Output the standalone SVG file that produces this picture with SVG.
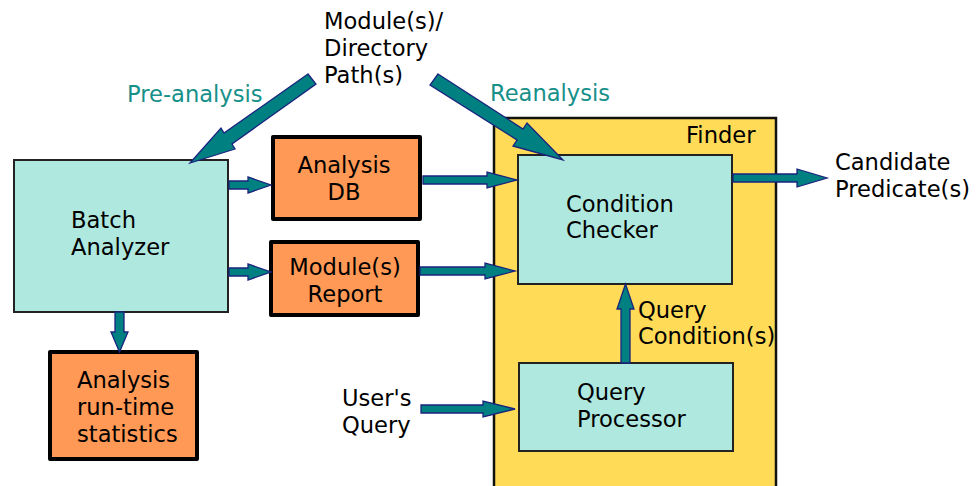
<svg xmlns="http://www.w3.org/2000/svg" width="977" height="486" viewBox="0 0 977 486">
<style>
text{font-family:"DejaVu Sans","Liberation Sans",sans-serif;font-size:22.6px;fill:#000}
.lbl{fill:#17908a}
.mid{text-anchor:middle}
.proc{fill:#afe8de;stroke:#222;stroke-width:2}
.data{fill:#ff9955;stroke:#000;stroke-width:4;stroke-linejoin:round}
.finder{fill:#ffdb58;stroke:#111;stroke-width:2.5}
.arr{fill:#008080;stroke:#1a237e;stroke-width:1.3;stroke-linejoin:miter}
</style>
<rect width="977" height="486" fill="#fff"/>
<g id="finder">
<rect class="finder" x="494" y="118" width="282" height="370"/>
<text x="686" y="143">Finder</text>
</g>
<g id="batch-analyzer">
<rect class="proc" x="14" y="160" width="214" height="152"/>
<text x="71" y="228">Batch</text>
<text x="71" y="255">Analyzer</text>
</g>
<g id="analysis-db">
<rect class="data" x="273" y="137" width="147" height="82"/>
<text class="mid" x="344" y="173">Analysis</text>
<text class="mid" x="344" y="200">DB</text>
</g>
<g id="module-report">
<rect class="data" x="271" y="242" width="147" height="73"/>
<text class="mid" x="345" y="275">Module(s)</text>
<text class="mid" x="345" y="302">Report</text>
</g>
<g id="runtime-stats">
<rect class="data" x="50" y="352" width="147" height="107"/>
<text x="77" y="388">Analysis</text>
<text x="77" y="415">run-time</text>
<text x="77" y="442">statistics</text>
</g>
<g id="condition-checker">
<rect class="proc" x="518" y="155" width="214" height="129"/>
<text x="566" y="212">Condition</text>
<text x="566" y="238">Checker</text>
</g>
<g id="query-processor">
<rect class="proc" x="519" y="363" width="214" height="88"/>
<text x="577" y="400">Query</text>
<text x="577" y="427">Processor</text>
</g>
<g id="module-paths">
<text x="324" y="29">Module(s)/</text>
<text x="324" y="56">Directory</text>
<text x="324" y="83">Path(s)</text>
</g>
<g id="users-query">
<text x="342" y="406">User's</text>
<text x="342" y="433">Query</text>
</g>
<g id="candidate">
<text x="835" y="170">Candidate</text>
<text x="835" y="197">Predicate(s)</text>
</g>
<g id="connectors">
<polygon class="arr" points="308,74 224,133 221,128 190,163 235,149 232,144 316,84"/>
<polygon class="arr" points="438,74 523,129 527,123 563,160 513,146 517,140 430,85"/>
<polygon class="arr" points="229,181 248,181 248,177 271,185 248,193 248,189 229,189"/>
<polygon class="arr" points="229,268 248,268 248,264 271,272 248,280 248,276 229,276"/>
<polygon class="arr" points="423,176 487,176 487,172 517,180 487,188 487,184 423,184"/>
<polygon class="arr" points="420,267 485,267 485,263 515,271 485,279 485,275 420,275"/>
<polygon class="arr" points="733,174 797,174 797,169 827,178 797,187 797,182 733,182"/>
<polygon class="arr" points="421,405 483,405 483,401 515,409 483,417 483,413 421,413"/>
<polygon class="arr" points="621,363 621,309 617,309 625.5,284 634,309 630,309 630,363"/>
<polygon class="arr" points="115,312 115,332 111,332 119.5,352 128,332 124,332 124,312"/>
<text class="lbl" x="127" y="102">Pre-analysis</text>
<text class="lbl" x="490" y="101">Reanalysis</text>
<text x="638" y="318">Query</text>
<text x="638" y="344">Condition(s)</text>
</g>
</svg>
